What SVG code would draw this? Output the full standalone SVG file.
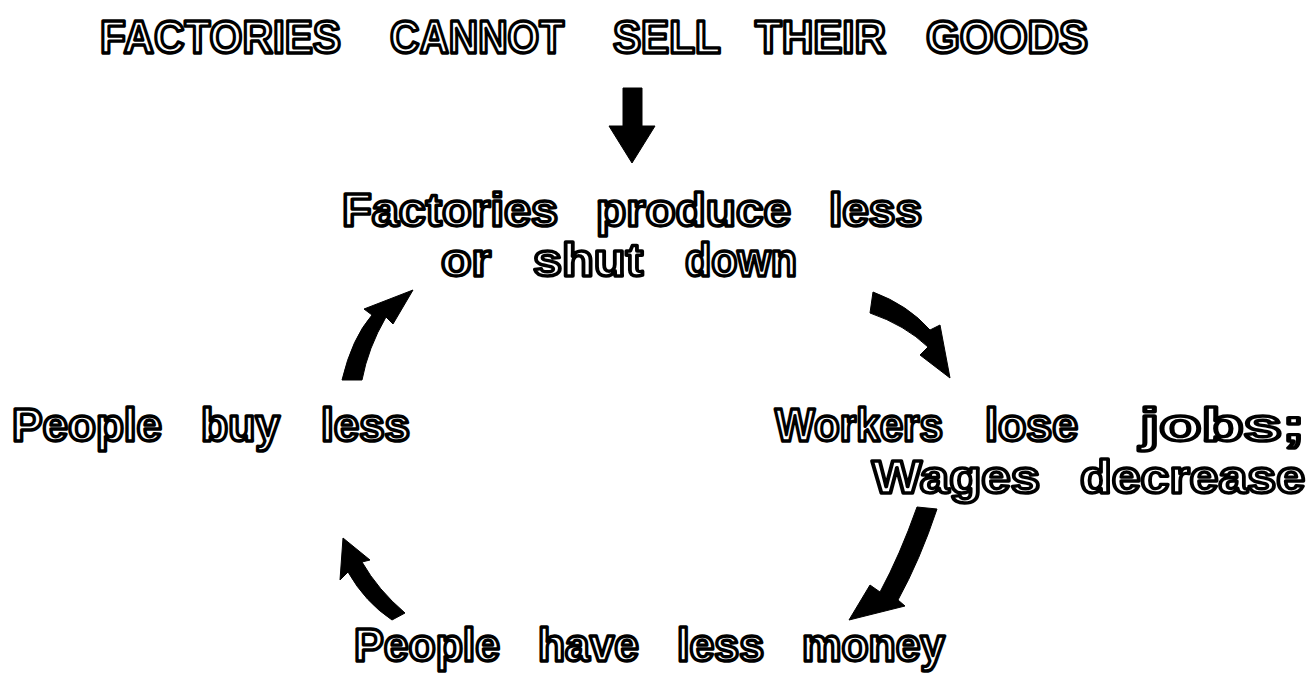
<svg xmlns="http://www.w3.org/2000/svg" width="1314" height="674" viewBox="0 0 1314 674">
<style>
.t{font-family:"Liberation Sans",Arial,sans-serif;font-weight:bold;font-size:46px;fill:#fff;stroke:#000;stroke-width:3.4;stroke-linejoin:round}
.a{fill:#000;stroke:#000;stroke-width:1;stroke-linejoin:round}
</style>
<rect width="1314" height="674" fill="#fff"/>
<g id="title"><text class="t" y="53"><tspan x="100" textLength="241" lengthAdjust="spacingAndGlyphs">FACTORIES</tspan> <tspan x="390" textLength="174" lengthAdjust="spacingAndGlyphs">CANNOT</tspan> <tspan x="613" textLength="107" lengthAdjust="spacingAndGlyphs">SELL</tspan> <tspan x="755" textLength="131" lengthAdjust="spacingAndGlyphs">THEIR</tspan> <tspan x="926" textLength="162" lengthAdjust="spacingAndGlyphs">GOODS</tspan></text></g>
<g id="n1"><text class="t"><tspan x="342" y="226" textLength="216" lengthAdjust="spacingAndGlyphs">Factories</tspan> <tspan x="596" y="226" textLength="195" lengthAdjust="spacingAndGlyphs">produce</tspan> <tspan x="829" y="226" textLength="93" lengthAdjust="spacingAndGlyphs">less</tspan><tspan x="441" y="276" textLength="50" lengthAdjust="spacingAndGlyphs">or</tspan> <tspan x="533" y="276" textLength="110" lengthAdjust="spacingAndGlyphs">shut</tspan> <tspan x="685" y="276" textLength="112" lengthAdjust="spacingAndGlyphs">down</tspan></text></g>
<g id="n2"><text class="t"><tspan x="775" y="441" textLength="168" lengthAdjust="spacingAndGlyphs">Workers</tspan> <tspan x="985" y="441" textLength="93" lengthAdjust="spacingAndGlyphs">lose</tspan> <tspan x="1140" y="441" textLength="165" lengthAdjust="spacingAndGlyphs">jobs;</tspan><tspan x="872" y="493" textLength="168" lengthAdjust="spacingAndGlyphs">Wages</tspan> <tspan x="1080" y="493" textLength="225" lengthAdjust="spacingAndGlyphs">decrease</tspan></text></g>
<g id="n3"><text class="t" y="661"><tspan x="354" textLength="146" lengthAdjust="spacingAndGlyphs">People</tspan> <tspan x="538" textLength="101" lengthAdjust="spacingAndGlyphs">have</tspan> <tspan x="677" textLength="87" lengthAdjust="spacingAndGlyphs">less</tspan> <tspan x="802" textLength="143" lengthAdjust="spacingAndGlyphs">money</tspan></text></g>
<g id="n4"><text class="t" y="441"><tspan x="12" textLength="150" lengthAdjust="spacingAndGlyphs">People</tspan> <tspan x="201" textLength="79" lengthAdjust="spacingAndGlyphs">buy</tspan> <tspan x="321" textLength="89" lengthAdjust="spacingAndGlyphs">less</tspan></text></g>
<g id="connectors">
<path class="a" d="M623 88 L642 88 L642 126 L655 126 L632 163 L609 126 L623 126 Z"/>
<path class="a" d="M873 292 Q908 305 930 330 L940 325 L950 378 L920 355 L928 347 Q905 325 870 313 Z"/>
<path class="a" d="M937 509 Q920 560 898 600 L905 606 L849 620 L870 585 L880 592 Q900 555 917 507 Z"/>
<path class="a" d="M405 613 Q378 590 362 562 L370 560 L343 538 L340 580 L348 572 Q365 602 392 620 Z"/>
<path class="a" d="M342 380 Q352 338 372 315 L364 309 L413 290 L393 324 L386 317 Q368 348 362 380 Z"/>
</g>
</svg>
